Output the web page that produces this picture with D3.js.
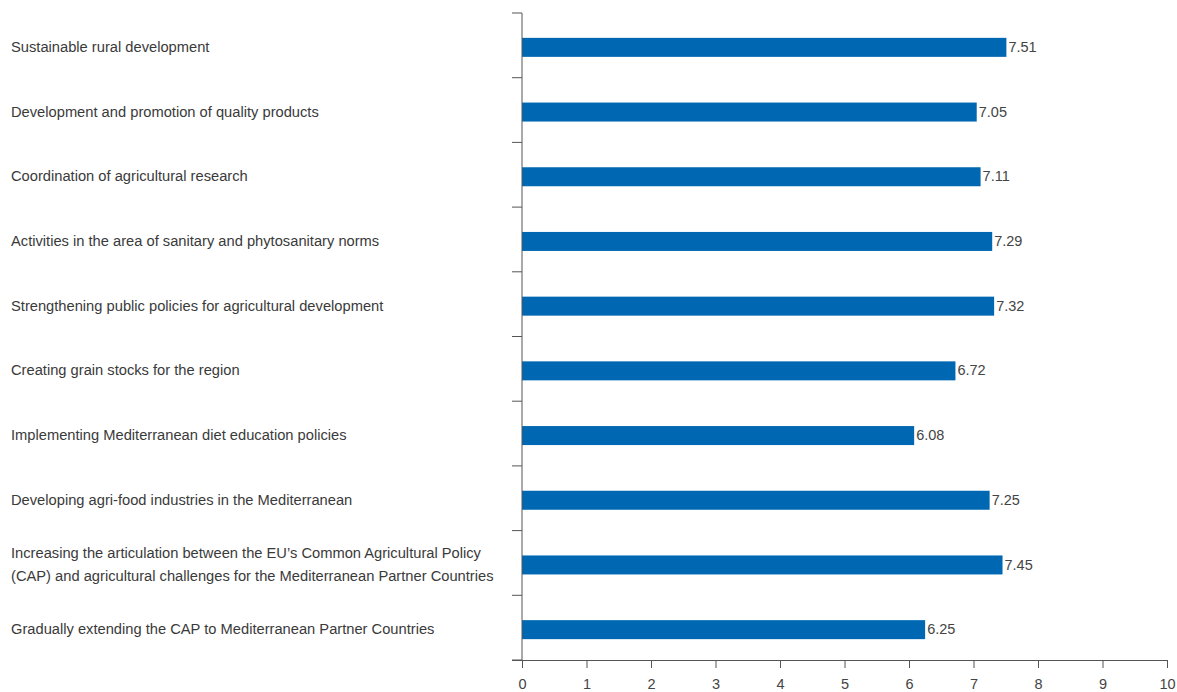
<!DOCTYPE html>
<html><head><meta charset="utf-8">
<script src="https://cdn.jsdelivr.net/npm/d3@7"></script>
<style>body{margin:0;background:#fff;} svg{display:block;}</style>
</head><body>
<svg id="c" width="1177" height="692"></svg>
<script>
const categories = [
  ["Sustainable rural development"],
  ["Development and promotion of quality products"],
  ["Coordination of agricultural research"],
  ["Activities in the area of sanitary and phytosanitary norms"],
  ["Strengthening public policies for agricultural development"],
  ["Creating grain stocks for the region"],
  ["Implementing Mediterranean diet education policies"],
  ["Developing agri-food industries in the Mediterranean"],
  ["Increasing the articulation between the EU\u2019s Common Agricultural Policy", "(CAP) and agricultural challenges for the Mediterranean Partner Countries"],
  ["Gradually extending the CAP to Mediterranean Partner Countries"]
];
const values = [7.51, 7.05, 7.11, 7.29, 7.32, 6.72, 6.08, 7.25, 7.45, 6.25];
const valueLabels = ["7.51","7.05","7.11","7.29","7.32","6.72","6.08","7.25","7.45","6.25"];
const xTicks = [0,1,2,3,4,5,6,7,8,9,10];

const svg = d3.select("#c");
const font = "'Liberation Sans', Arial, sans-serif";
const x = d3.scaleLinear().domain([0,10]).range([522,1167]);
const y = d3.scaleBand().domain(d3.range(values.length)).range([13,660]);
const barH = 19;
const axisColor = "#555";

// bars
svg.append("g").selectAll("rect").data(values).join("rect")
  .attr("x", x(0)).attr("y", (d,i)=> y(i)+y.bandwidth()/2 - barH/2 + 2)
  .attr("width", d=> x(d)-x(0)).attr("height", barH)
  .attr("fill", "#0068b3");

// value labels
svg.append("g").selectAll("text").data(values).join("text")
  .attr("x", d=> x(d)+2).attr("y", (d,i)=> y(i)+y.bandwidth()/2 + 1.5)
  .attr("dy","0.35em")
  .attr("font-family", font).attr("font-size", 14.5).attr("fill","#444")
  .text((d,i)=> valueLabels[i]);

// category labels
const lab = svg.append("g").selectAll("text").data(categories).join("text")
  .attr("font-family", font).attr("font-size", 14.7).attr("fill","#3a3a3a");
lab.each(function(lines,i){
  const cy = y(i)+y.bandwidth()/2 + 1.5;
  const lh = 23;
  const start = cy - (lines.length-1)*lh/2;
  d3.select(this).selectAll("tspan").data(lines).join("tspan")
    .attr("x", 11).attr("y",(l,j)=> start + j*lh).attr("dy","0.35em").text(l=>l);
});

// y axis
const ya = svg.append("g");
ya.append("line").attr("x1",522).attr("x2",522).attr("y1",13).attr("y2",660)
  .attr("stroke",axisColor).attr("stroke-width",1);
const bounds = d3.range(values.length+1).map(i=> i<values.length ? y(i) : y.range()[1]);
ya.selectAll("line.t").data(bounds).join("line").attr("class","t")
  .attr("x1",512).attr("x2",522).attr("y1",d=>d).attr("y2",d=>d)
  .attr("stroke",axisColor);

// x axis
const xa = svg.append("g").attr("transform","translate(0,660)")
  .call(d3.axisBottom(x).tickValues(xTicks).tickSize(8).tickPadding(11).tickFormat(d3.format("d")));
xa.select(".domain").attr("d","M512,0.5H1167").attr("stroke",axisColor);
xa.selectAll(".tick line").attr("stroke",axisColor);
xa.selectAll(".tick text").attr("font-family",font).attr("font-size",14.5).attr("fill","#444");
</script>
</body></html>
